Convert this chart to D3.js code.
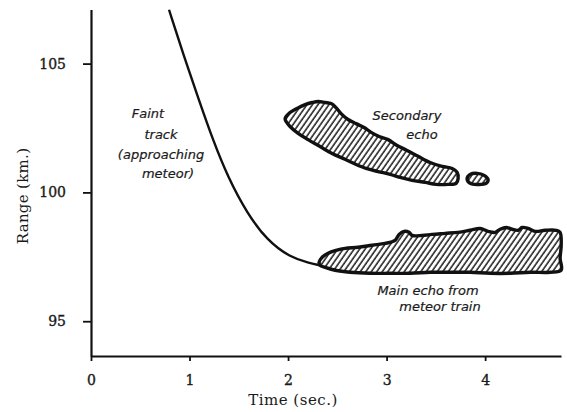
<!DOCTYPE html>
<html>
<head>
<meta charset="utf-8">
<script src="https://cdn.jsdelivr.net/npm/d3@7"></script>
<style>
  body { margin: 0; background: #fff; }
  .tick text { font-family: "DejaVu Serif", serif; font-size: 14px; fill: #1a1a1a; stroke: #1a1a1a; stroke-width: 0.35px; }
  .note { font-family: "DejaVu Sans", sans-serif; font-style: italic; font-size: 13px; fill: #1a1a1a; stroke: #1a1a1a; stroke-width: 0.2px; }
</style>
</head>
<body>
<script>
// x ticks and y ticks
var timeTicks = [0, 1, 2, 3, 4];
var rangeTicks = [95, 100, 105];

// faint track of the approaching meteor
var trackTime  = [0.792, 0.934, 1.097, 1.239, 1.391, 1.584, 1.787, 2.020, 2.223, 2.325];
var trackRange = [107.09, 105.39, 103.57, 102.02, 100.58, 99.19, 98.14, 97.48, 97.25, 97.17];

// secondary echo outline
var secTime  = [1.970, 2.020, 2.091, 2.173, 2.244, 2.305, 2.376, 2.437, 2.487, 2.538, 2.609, 2.690, 2.772, 2.843, 2.924, 3.015, 3.107, 3.208, 3.320, 3.442, 3.563, 3.665, 3.716, 3.726, 3.706, 3.624, 3.503, 3.391, 3.259, 3.137, 3.036, 2.914, 2.792, 2.670, 2.558, 2.447, 2.325, 2.203, 2.102, 2.020, 1.980];
var secRange = [102.87, 103.10, 103.26, 103.41, 103.49, 103.53, 103.49, 103.45, 103.29, 103.06, 102.83, 102.67, 102.52, 102.33, 102.17, 102.05, 101.82, 101.63, 101.40, 101.16, 101.01, 100.93, 100.78, 100.54, 100.35, 100.31, 100.31, 100.39, 100.47, 100.58, 100.70, 100.81, 100.93, 101.12, 101.32, 101.51, 101.78, 102.05, 102.29, 102.56, 102.75];

// little blob after the secondary echo
var blobTime  = [3.817, 3.848, 3.919, 3.990, 4.030, 4.010, 3.929, 3.848];
var blobRange = [100.54, 100.70, 100.74, 100.66, 100.50, 100.35, 100.31, 100.35];

// main echo from the meteor train
var mainTime  = [2.315, 2.345, 2.406, 2.487, 2.579, 2.711, 2.853, 2.985, 3.086, 3.127, 3.178, 3.228, 3.259, 3.360, 3.462, 3.594, 3.726, 3.848, 3.949, 4.030, 4.102, 4.152, 4.213, 4.274, 4.335, 4.376, 4.437, 4.508, 4.609, 4.721, 4.761, 4.772, 4.761, 4.772, 4.660, 4.457, 4.254, 4.051, 3.848, 3.645, 3.442, 3.239, 3.036, 2.832, 2.629, 2.477, 2.376, 2.325];
var mainRange = [97.29, 97.48, 97.64, 97.75, 97.83, 97.87, 97.95, 98.02, 98.14, 98.37, 98.49, 98.45, 98.33, 98.33, 98.37, 98.41, 98.45, 98.53, 98.60, 98.49, 98.45, 98.57, 98.64, 98.57, 98.53, 98.64, 98.60, 98.49, 98.53, 98.53, 98.45, 97.95, 97.44, 96.98, 96.90, 96.90, 96.86, 96.86, 96.90, 96.90, 96.90, 96.86, 96.86, 96.86, 96.90, 96.98, 97.09, 97.17];

var width = 567, height = 412;

var svg = d3.select("body").append("svg")
    .attr("width", width)
    .attr("height", height);

var x = d3.scaleLinear().domain([0, 4.77]).range([91, 561]);
var y = d3.scaleLinear().domain([93.65, 107.1]).range([356, 9.5]);

//hatch fill for the echoes
var pat = svg.append("defs").append("pattern")
    .attr("id", "hatch")
    .attr("patternUnits", "userSpaceOnUse")
    .attr("width", 4.5)
    .attr("height", 4.5)
    .attr("patternTransform", "rotate(35)");
pat.append("rect").attr("width", 4.5).attr("height", 4.5).attr("fill", "#fff");
pat.append("line")
    .attr("x1", 1).attr("y1", 0).attr("x2", 1).attr("y2", 4.5)
    .attr("stroke", "#1a1a1a").attr("stroke-width", 1.5);

function pts(ts, rs) {
    return ts.map(function(t, i){ return [t, rs[i]]; });
}

var shape = d3.line()
    .x(function(d){ return x(d[0]); })
    .y(function(d){ return y(d[1]); })
    .curve(d3.curveCatmullRomClosed.alpha(0.5));

[pts(secTime, secRange), pts(blobTime, blobRange), pts(mainTime, mainRange)].forEach(function(p){
    svg.append("path")
        .attr("d", shape(p))
        .attr("fill", "url(#hatch)")
        .attr("stroke", "#111")
        .attr("stroke-width", 3.4)
        .attr("stroke-linejoin", "round");
});

//faint track curve
var track = d3.line()
    .x(function(d){ return x(d[0]); })
    .y(function(d){ return y(d[1]); })
    .curve(d3.curveBasis);

svg.append("path")
    .attr("d", track(pts(trackTime, trackRange)))
    .attr("fill", "none")
    .attr("stroke", "#111")
    .attr("stroke-width", 2.4);

//axes
svg.append("g")
    .attr("transform", "translate(0,356)")
    .call(d3.axisBottom(x).tickValues(timeTicks).tickFormat(d3.format("d"))
        .tickSize(5).tickSizeOuter(0).tickPadding(14));
svg.append("g")
    .attr("transform", "translate(91,0)")
    .call(d3.axisLeft(y).tickValues(rangeTicks).tickSize(8).tickSizeOuter(0).tickPadding(17));

svg.selectAll(".domain").attr("stroke", "#111").attr("stroke-width", 2.2);
svg.selectAll(".tick line").attr("stroke", "#111").attr("stroke-width", 1.8);

//axis titles
svg.append("text")
    .attr("x", 293).attr("y", 405)
    .attr("text-anchor", "middle")
    .style("font-family", "DejaVu Serif, serif")
    .style("font-size", "15px")
    .style("letter-spacing", "0.5px")
    .attr("fill", "#1a1a1a")
    .text("Time (sec.)");

svg.append("text")
    .attr("transform", "translate(28,196) rotate(-90)")
    .attr("text-anchor", "middle")
    .style("font-family", "DejaVu Serif, serif")
    .style("font-size", "15px")
    .style("letter-spacing", "0.3px")
    .attr("fill", "#1a1a1a")
    .text("Range (km.)");

//hand lettered notes
var notes = [
    ["Faint", 148, 118],
    ["track", 161, 139],
    ["(approaching", 161, 159],
    ["meteor)", 168, 178],
    ["Secondary", 407, 120],
    ["echo", 422, 139],
    ["Main echo from", 428, 295],
    ["meteor train", 440, 311]
];
svg.selectAll(".note").data(notes).enter().append("text")
    .attr("class", "note")
    .attr("x", function(d){ return d[1]; })
    .attr("y", function(d){ return d[2]; })
    .attr("text-anchor", "middle")
    .text(function(d){ return d[0]; });
</script>
</body>
</html>
